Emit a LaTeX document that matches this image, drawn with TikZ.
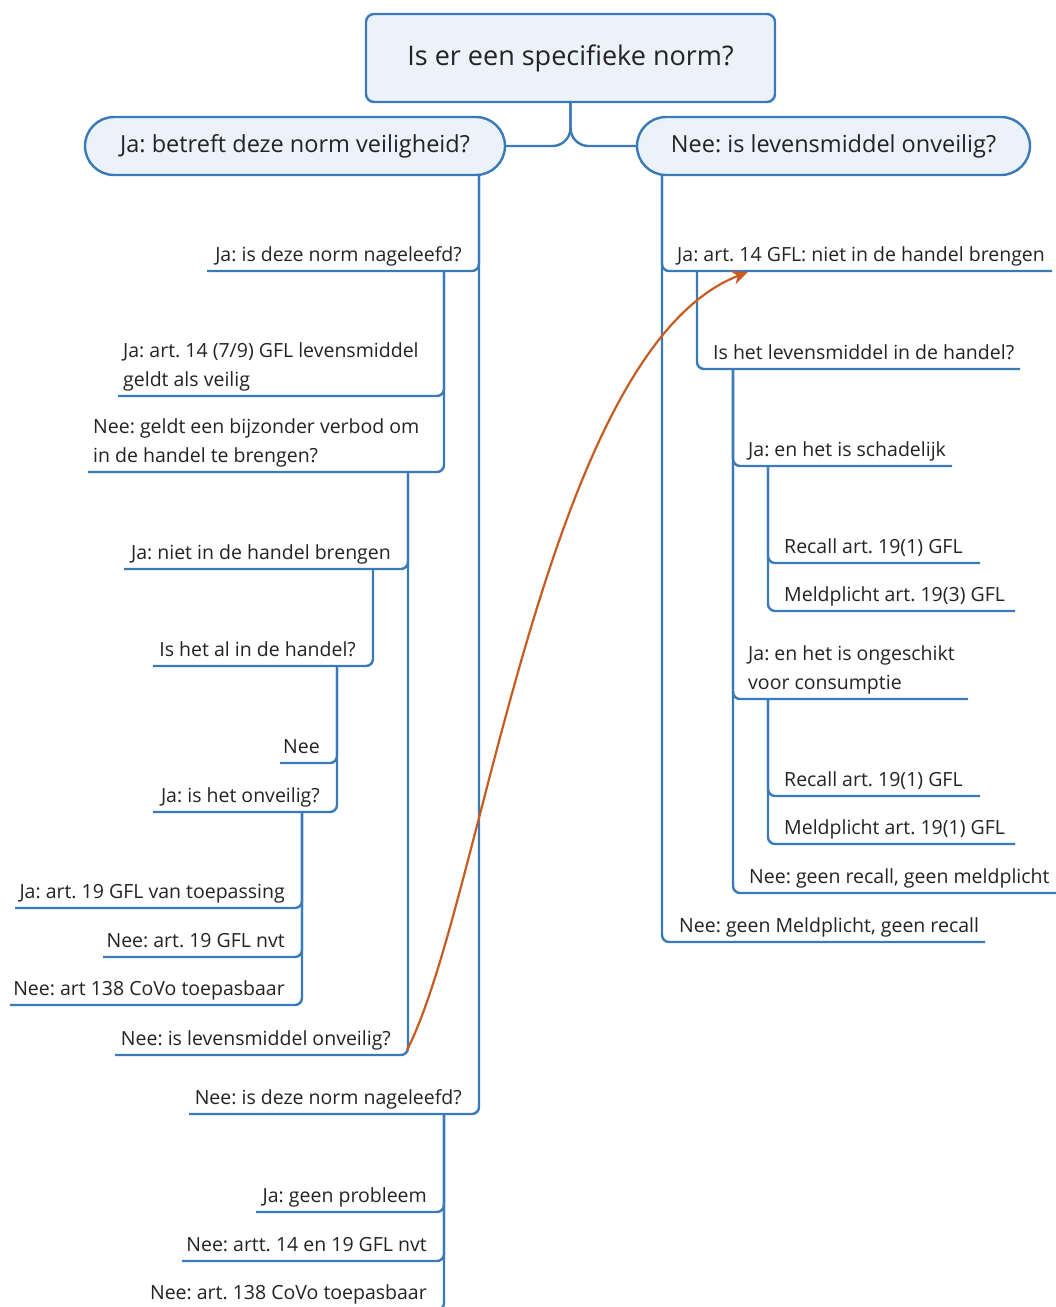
\documentclass[tikz,border=0pt]{standalone}
\usepackage{fontspec}
\setmainfont{Open Sans}
\frenchspacing
\usetikzlibrary{arrows.meta}
\definecolor{mapblue}{RGB}{58,122,185}
\definecolor{mapfill}{RGB}{235,242,249}
\definecolor{maporange}{RGB}{200,92,32}
\definecolor{maptext}{RGB}{35,35,35}
\newcommand{\leaffont}{\fontsize{19.5}{29}\selectfont}

\begin{document}
\begin{tikzpicture}[x=1pt, y=-1pt,
    branch/.style={draw=mapblue, line width=2.4pt, rounded corners=7pt},
    leaf/.style={inner sep=0pt, text depth=0pt, text=maptext, font=\leaffont},
    pill/.style={draw=mapblue, fill=mapfill, line width=2.4pt, text=maptext,
        rounded corners=29pt, minimum height=58pt, font=\fontsize{23.5}{28}\selectfont},
    flow/.style={draw=maporange, line width=2.2pt, -{Stealth[length=16pt, width=14pt]}}]

    \useasboundingbox[fill=white] (0,0) rectangle (1056,1307);

    % top of the map
    \node[pill, rounded corners=8pt, minimum width=409pt, minimum height=88pt,
        font=\fontsize{27}{32}\selectfont] (root) at (570.5,58) {Is er een specifieke norm?};
    \node[pill, minimum width=420pt] (ja) at (295,146) {Ja: betreft deze norm veiligheid?};
    \node[pill, minimum width=393pt] (nee) at (833.5,146) {Nee: is levensmiddel onveilig?};
    \draw[branch, rounded corners=18pt] (root.south) |- (ja.east);
    \draw[branch, rounded corners=18pt] (root.south) |- (nee.west);

    % spines, left side
    \coordinate (jaS) at (479,175);
    \coordinate (a1S) at (444,271);
    \coordinate (b2S) at (408,472);
    \coordinate (c1S) at (373,569);
    \coordinate (d1S) at (337,666);
    \coordinate (e2S) at (302,812);
    \coordinate (a2S) at (444,1114);

    % left topics
    \coordinate (a1) at (207,271);
    \node[leaf, anchor=south east] (a1-txt) at (462,262) {Ja: is deze norm nageleefd?};
    \coordinate (b1) at (118,396);
    \node[leaf, anchor=south west, align=left] (b1-txt) at (123,387) {Ja: art. 14 (7/9) GFL levensmiddel\\geldt als veilig};
    \coordinate (b2) at (88,472);
    \node[leaf, anchor=south west, align=left] (b2-txt) at (93,463) {Nee: geldt een bijzonder verbod om\\in de handel te brengen?};
    \coordinate (c1) at (124,569);
    \node[leaf, anchor=south east] (c1-txt) at (391,560) {Ja: niet in de handel brengen};
    \coordinate (d1) at (153,666);
    \node[leaf, anchor=south east] (d1-txt) at (356,657) {Is het al in de handel?};
    \coordinate (e1) at (280,763);
    \node[leaf, anchor=south east] (e1-txt) at (320,754) {Nee};
    \coordinate (e2) at (153,812);
    \node[leaf, anchor=south east] (e2-txt) at (320,803) {Ja: is het onveilig?};
    \coordinate (f1) at (15,908);
    \node[leaf, anchor=south east] (f1-txt) at (285,899) {Ja: art. 19 GFL van toepassing};
    \coordinate (f2) at (103,957);
    \node[leaf, anchor=south east] (f2-txt) at (285,948) {Nee: art. 19 GFL nvt};
    \coordinate (f3) at (10,1005);
    \node[leaf, anchor=south east] (f3-txt) at (285,996) {Nee: art 138 CoVo toepasbaar};
    \coordinate (c2) at (115,1055);
    \node[leaf, anchor=south east] (c2-txt) at (391,1046) {Nee: is levensmiddel onveilig?};
    \coordinate (a2) at (189,1114);
    \node[leaf, anchor=south east] (a2-txt) at (462,1105) {Nee: is deze norm nageleefd?};
    \coordinate (g1) at (256,1212);
    \node[leaf, anchor=south east] (g1-txt) at (427,1203) {Ja: geen probleem};
    \coordinate (g2) at (182,1261);
    \node[leaf, anchor=south east] (g2-txt) at (427,1252) {Nee: artt. 14 en 19 GFL nvt};
    \coordinate (g3) at (150,1310);
    \node[leaf, anchor=south east] (g3-txt) at (427,1300) {Nee: art. 138 CoVo toepasbaar};

    \draw[branch] (jaS) |- (a1);
    \draw[branch] (jaS) |- (a2);
    \draw[branch] (a1S) |- (b1);
    \draw[branch] (a1S) |- (b2);
    \draw[branch] (b2S) |- (c1);
    \draw[branch] (b2S) |- (c2);
    \draw[branch] (c1S) |- (d1);
    \draw[branch] (d1S) |- (e1);
    \draw[branch] (d1S) |- (e2);
    \draw[branch] (e2S) |- (f1);
    \draw[branch] (e2S) |- (f2);
    \draw[branch] (e2S) |- (f3);
    \draw[branch] (a2S) |- (g1);
    \draw[branch] (a2S) |- (g2);
    \draw[branch] (a2S) |- (g3);

    % spines, right side
    \coordinate (neeS) at (662,175);
    \coordinate (r1S) at (697,271);
    \coordinate (s1S) at (733,369);
    \coordinate (t1S) at (768,466);
    \coordinate (t2S) at (768,699);

    % right topics
    \coordinate (r1) at (1052,271);
    \node[leaf, anchor=south west] (r1-txt) at (677,262) {Ja: art. 14 GFL: niet in de handel brengen};
    \coordinate (s1) at (1020,369);
    \node[leaf, anchor=south west] (s1-txt) at (713,360) {Is het levensmiddel in de handel?};
    \coordinate (t1) at (952,466);
    \node[leaf, anchor=south west] (t1-txt) at (748,457) {Ja: en het is schadelijk};
    \coordinate (u1) at (980,563);
    \node[leaf, anchor=south west] (u1-txt) at (784,554) {Recall art. 19(1) GFL};
    \coordinate (u2) at (1015,611);
    \node[leaf, anchor=south west] (u2-txt) at (784,602) {Meldplicht art. 19(3) GFL};
    \coordinate (t2) at (968,699);
    \node[leaf, anchor=south west, align=left] (t2-txt) at (748,690) {Ja: en het is ongeschikt\\voor consumptie};
    \coordinate (v1) at (980,796);
    \node[leaf, anchor=south west] (v1-txt) at (784,787) {Recall art. 19(1) GFL};
    \coordinate (v2) at (1015,844);
    \node[leaf, anchor=south west] (v2-txt) at (784,835) {Meldplicht art. 19(1) GFL};
    \coordinate (t3) at (1056,893);
    \node[leaf, anchor=south west] (t3-txt) at (749,884) {Nee: geen recall, geen meldplicht};
    \coordinate (r2) at (985,942);
    \node[leaf, anchor=south west] (r2-txt) at (679,933) {Nee: geen Meldplicht, geen recall};

    \draw[branch] (neeS) |- (r1);
    \draw[branch] (neeS) |- (r2);
    \draw[branch] (r1S) |- (s1);
    \draw[branch] (s1S) |- (t1);
    \draw[branch] (s1S) |- (t2);
    \draw[branch] (s1S) |- (t3);
    \draw[branch] (t1S) |- (u1);
    \draw[branch] (t1S) |- (u2);
    \draw[branch] (t2S) |- (v1);
    \draw[branch] (t2S) |- (v2);

    % cross link
    \coordinate (c2c) at (407,1050);
    \coordinate (r1tip) at (748,272);
    \draw[flow] (c2c) .. controls (482,905) and (545,350) .. (r1tip);

\end{tikzpicture}
\end{document}
